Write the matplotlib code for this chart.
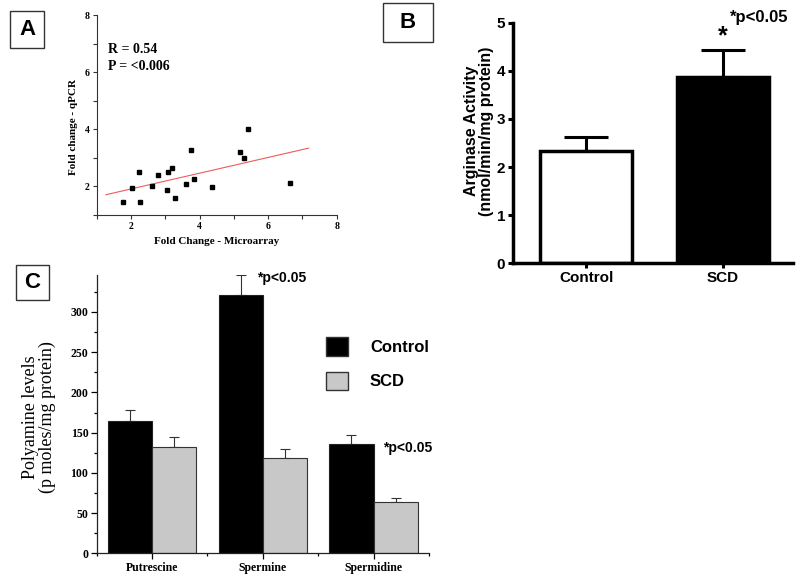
import matplotlib
matplotlib.use('Agg')
import matplotlib.pyplot as plt
import numpy as np
from matplotlib.patches import Patch, Rectangle
from matplotlib.ticker import MultipleLocator

# Painel A - correlacao microarray x qPCR
micro_fc = [1.78, 2.02, 2.24, 2.26, 2.60, 2.79, 3.06, 3.07, 3.20, 3.28,
            3.60, 3.75, 3.84, 4.35, 5.19, 5.30, 5.40, 6.65]
qpcr_fc = [1.44, 1.93, 2.49, 1.47, 2.00, 2.40, 1.86, 2.51, 2.66, 1.61,
           2.09, 3.26, 2.27, 1.98, 3.19, 2.98, 4.01, 2.12]
fit_x = [1.27, 7.18]
fit_y = [1.71, 3.34]

# Painel B - atividade da arginase
arg_groups = ['Control', 'SCD']
arg_mean = [2.33, 3.87]
arg_err = [0.29, 0.56]

# Painel C - poliaminas
poly_names = ['Putrescine', 'Spermine', 'Spermidine']
poly_control = [165, 321, 136.5]
poly_control_err = [13, 25.5, 11]
poly_scd = [132.7, 118.6, 63.5]
poly_scd_err = [11.7, 10.8, 5]

SERIF = 'Liberation Serif'
SANS = 'Liberation Sans'

fig = plt.figure(figsize=(8, 5.82), dpi=100)

# ---------------- A ----------------
axA = fig.add_axes([0.1209, 0.6306, 0.3, 0.3436])
axA.plot(micro_fc, qpcr_fc, 's', color='black', markersize=3.4, zorder=3)
axA.plot(fit_x, fit_y, '-', color='#f05a5a', lw=0.8)
axA.set_xlim(1, 8)
axA.set_ylim(1, 8)
axA.xaxis.set_major_locator(MultipleLocator(2))
axA.xaxis.set_minor_locator(MultipleLocator(1))
axA.yaxis.set_major_locator(MultipleLocator(2))
axA.yaxis.set_minor_locator(MultipleLocator(1))
for s in ['top', 'right']:
    axA.spines[s].set_visible(False)
for s in ['left', 'bottom']:
    axA.spines[s].set_color('#333333')
    axA.spines[s].set_linewidth(0.8)
axA.tick_params(which='both', length=3, width=0.8, color='#333333', pad=2)
for lab in axA.get_xticklabels() + axA.get_yticklabels():
    lab.set_fontfamily(SERIF)
    lab.set_fontweight('bold')
    lab.set_fontsize(7)
axA.set_xlabel('Fold Change - Microarray', family=SERIF, weight='bold', fontsize=8)
axA.set_ylabel('Fold change - qPCR', family=SERIF, weight='bold', fontsize=8)
axA.xaxis.set_label_coords(0.5, -0.11)
axA.yaxis.set_label_coords(-0.078, 0.44)
axA.text(1.32, 6.8, 'R = 0.54', family=SERIF, weight='bold', fontsize=10, va='center')
axA.text(1.32, 6.2, 'P = <0.006', family=SERIF, weight='bold', fontsize=10, va='center')

# ---------------- B ----------------
axB = fig.add_axes([0.6416, 0.5476, 0.3496, 0.4134])
xb = np.arange(len(arg_groups))
axB.bar(xb, arg_mean, width=0.67, color=['white', 'black'], edgecolor='black',
        linewidth=2.5, zorder=2)
axB.errorbar(xb, arg_mean, yerr=[[0, 0], arg_err], fmt='none', ecolor='black',
             elinewidth=2.2, capsize=16, capthick=2.2, zorder=1)
axB.set_xlim(-0.533, 1.51)
axB.set_ylim(0, 5)
axB.set_xticks(xb)
axB.set_xticklabels(arg_groups)
axB.set_yticks(range(6))
for s in ['top', 'right']:
    axB.spines[s].set_visible(False)
for s in ['left', 'bottom']:
    axB.spines[s].set_linewidth(2.5)
axB.tick_params(length=3.8, width=2.2, pad=2)
for lab in axB.get_xticklabels() + axB.get_yticklabels():
    lab.set_fontfamily(SANS)
    lab.set_fontweight('bold')
    lab.set_fontsize(11)
axB.set_ylabel('Arginase Activity\n(nmol/min/mg protein)', family=SANS,
               weight='bold', fontsize=11.5, linespacing=1.0)
axB.yaxis.set_label_coords(-0.068, 0.55)
axB.text(1.0, 4.47, '*', family=SANS, weight='bold', fontsize=18, ha='center',
         va='bottom', clip_on=False)
axB.text(1.05, 5.1, '*p<0.05', family=SANS, weight='bold', fontsize=12,
         ha='left', va='center', clip_on=False)

# ---------------- C ----------------
axC = fig.add_axes([0.1209, 0.0493, 0.4154, 0.4782])
xc = np.arange(len(poly_names))
w = 0.4
axC.bar(xc - w / 2, poly_control, width=w, color='black', edgecolor='#222222',
        linewidth=0.8, zorder=2)
axC.bar(xc + w / 2, poly_scd, width=w, color='#c8c8c8', edgecolor='#333333',
        linewidth=0.8, zorder=2)
axC.errorbar(xc - w / 2, poly_control, yerr=[[0] * 3, poly_control_err], fmt='none',
             ecolor='#333333', elinewidth=0.8, capsize=3.6, capthick=0.8, zorder=1)
axC.errorbar(xc + w / 2, poly_scd, yerr=[[0] * 3, poly_scd_err], fmt='none',
             ecolor='#333333', elinewidth=0.8, capsize=3.6, capthick=0.8, zorder=1)
axC.set_xlim(-0.5, 2.5)
axC.set_ylim(0, 346)
axC.set_xticks(xc)
axC.set_xticklabels(poly_names)
axC.set_xticks([-0.5, 0.5, 1.5, 2.5], minor=True)
axC.yaxis.set_major_locator(MultipleLocator(50))
axC.yaxis.set_minor_locator(MultipleLocator(25))
for s in ['top', 'right']:
    axC.spines[s].set_visible(False)
for s in ['left', 'bottom']:
    axC.spines[s].set_color('#222222')
    axC.spines[s].set_linewidth(0.9)
axC.tick_params(which='major', length=4, width=0.9, pad=2)
axC.tick_params(which='minor', length=2.5, width=0.9)
for lab in axC.get_xticklabels() + axC.get_yticklabels():
    lab.set_fontfamily(SERIF)
    lab.set_fontweight('bold')
    lab.set_fontsize(8.5)
axC.set_ylabel('Polyamine levels\n(p moles/mg protein)', family=SERIF, fontsize=13,
               linespacing=1.0)
axC.yaxis.set_label_coords(-0.122, 0.49)
axC.text(0.946, 342.7, '*p<0.05', family=SANS, weight='bold', fontsize=10,
         va='center', clip_on=False)
axC.text(2.087, 131.5, '*p<0.05', family=SANS, weight='bold', fontsize=10,
         va='center')
handles = [Patch(facecolor='black', edgecolor='#333333', label='Control'),
           Patch(facecolor='#c8c8c8', edgecolor='#333333', label='SCD')]
axC.legend(handles=handles, loc='upper left', bbox_to_anchor=(0.689, 0.776),
           frameon=False, prop={'family': SANS, 'weight': 'bold', 'size': 12},
           handlelength=1.32, handleheight=1.32, handletextpad=1.34,
           labelspacing=0.95, borderpad=0, borderaxespad=0)

# Letras dos paineis (caixas em pixels da figura)
for letter, x0, y0, bw, bh in [('A', 10, 11, 34, 37), ('B', 383, 3, 50, 39),
                               ('C', 16, 265, 33, 35)]:
    fig.patches.append(Rectangle((x0 / 800, 1 - (y0 + bh) / 582), bw / 800, bh / 582,
                                 transform=fig.transFigure, facecolor='white',
                                 edgecolor='#333333', linewidth=1.0))
    fig.text((x0 + bw / 2) / 800, 1 - (y0 + bh / 2) / 582, letter, family=SANS,
             weight='bold', fontsize=16, ha='center', va='center')

fig.savefig('out.png', dpi=100)
